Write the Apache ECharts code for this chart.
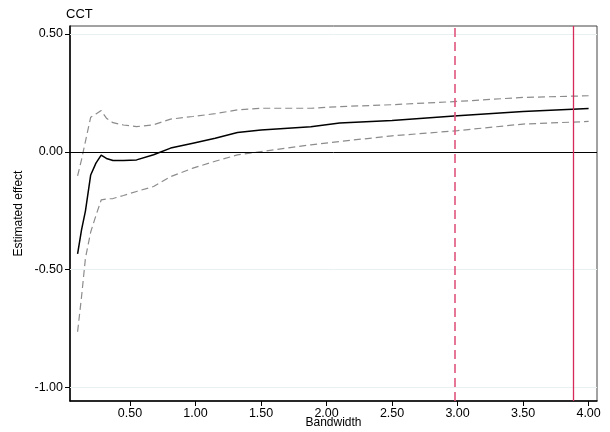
<!DOCTYPE html>
<html>
<head>
<meta charset="utf-8">
<script src="https://cdn.jsdelivr.net/npm/echarts@6/dist/echarts.min.js"></script>
<style>html,body{margin:0;padding:0;background:#fff;}#c{width:610px;height:432px;}</style>
</head>
<body>
<div id="c"></div>
<script>
const bandwidth = [0.10, 0.13, 0.16, 0.20, 0.24, 0.28, 0.32, 0.37, 0.45, 0.55, 0.68, 0.81, 0.98, 1.15, 1.32, 1.50, 1.88, 2.10, 2.50, 3.00, 3.50, 4.00];
const estimate  = [-0.433, -0.331, -0.250, -0.098, -0.048, -0.014, -0.028, -0.037, -0.037, -0.034, -0.012, 0.016, 0.037, 0.058, 0.082, 0.093, 0.107, 0.122, 0.133, 0.153, 0.171, 0.184];
const upperCI   = [-0.102, -0.033, 0.045, 0.147, 0.161, 0.175, 0.143, 0.124, 0.114, 0.107, 0.115, 0.139, 0.150, 0.162, 0.178, 0.185, 0.185, 0.192, 0.200, 0.214, 0.231, 0.238];
const lowerCI   = [-0.763, -0.615, -0.450, -0.340, -0.270, -0.204, -0.200, -0.198, -0.185, -0.168, -0.147, -0.105, -0.069, -0.040, -0.013, 0.001, 0.030, 0.044, 0.068, 0.090, 0.118, 0.129];
const xTicks = [0.5, 1.0, 1.5, 2.0, 2.5, 3.0, 3.5, 4.0];
const yTicks = [-1.0, -0.5, 0.0, 0.5];
const dashedRef = 2.98;
const solidRef = 3.88;

const pairs = (ys) => bandwidth.map((x, i) => [x, ys[i]]);
const FONT = 'Liberation Sans, Arial, sans-serif';

const chart = echarts.init(document.getElementById('c'), null, {renderer: 'canvas'});
chart.setOption({
  animation: false,
  backgroundColor: '#ffffff',
  title: {
    text: 'CCT', left: 61, top: 3,
    textStyle: {fontFamily: FONT, fontSize: 13, fontWeight: 'normal', color: '#000'}
  },
  grid: {
    left: 70, right: 13, top: 26, bottom: 31,
    outerBoundsMode: 'none', containLabel: false,
    show: true, borderColor: '#444', borderWidth: 1, backgroundColor: '#fff'
  },
  xAxis: {
    type: 'value', min: 0.042, max: 4.064,
    name: 'Bandwidth', nameLocation: 'middle', nameGap: 16, nameMoveOverlap: false,
    nameTextStyle: {fontFamily: FONT, fontSize: 12, color: '#000', verticalAlign: 'top'},
    axisLine: {show: true, onZero: false, lineStyle: {color: '#000', width: 1.5}},
    axisTick: {show: true, inside: false, length: 5, customValues: xTicks, lineStyle: {color: '#000'}},
    axisLabel: {
      customValues: xTicks, color: '#000', fontFamily: FONT, fontSize: 12.5, margin: 6,
      formatter: v => v.toFixed(2)
    },
    splitLine: {show: false}
  },
  yAxis: {
    type: 'value', min: -1.057, max: 0.534,
    name: 'Estimated effect', nameLocation: 'middle', nameGap: 45, nameMoveOverlap: false,
    nameTextStyle: {fontFamily: FONT, fontSize: 12, color: '#000'},
    axisLine: {show: true, onZero: false, lineStyle: {color: '#000', width: 1.5}},
    axisTick: {show: true, inside: false, length: 5, customValues: yTicks, lineStyle: {color: '#000'}},
    axisLabel: {
      customValues: yTicks, color: '#000', fontFamily: FONT, fontSize: 12.5, margin: 7,
      formatter: v => v.toFixed(2)
    },
    splitLine: {show: false}
  },
  series: [
    {
      type: 'line', data: [], silent: true,
      markLine: {
        silent: true, symbol: 'none', label: {show: false},
        lineStyle: {color: '#e8f0f1', width: 1, type: 'solid'},
        data: yTicks.filter(v => v !== 0).map(v => ({yAxis: v}))
      },
      z: 1
    },
    {
      name: 'upper', type: 'line', data: pairs(upperCI), showSymbol: false,
      lineStyle: {color: '#8c8c8c', width: 1.2, type: [7, 4]}, z: 3
    },
    {
      name: 'lower', type: 'line', data: pairs(lowerCI), showSymbol: false,
      lineStyle: {color: '#8c8c8c', width: 1.2, type: [7, 4]}, z: 3
    },
    {
      name: 'estimate', type: 'line', data: pairs(estimate), showSymbol: false,
      lineStyle: {color: '#000', width: 1.5}, z: 4,
      markLine: {
        silent: true, symbol: 'none', label: {show: false},
        data: [
          {yAxis: 0, lineStyle: {color: '#000', width: 1, type: 'solid'}},
          {xAxis: dashedRef, lineStyle: {color: '#e0557e', width: 1.6, type: [9, 5]}},
          {xAxis: solidRef, lineStyle: {color: '#d52a5a', width: 1.3, type: 'solid'}}
        ]
      }
    }
  ]
});
</script>
</body>
</html>
